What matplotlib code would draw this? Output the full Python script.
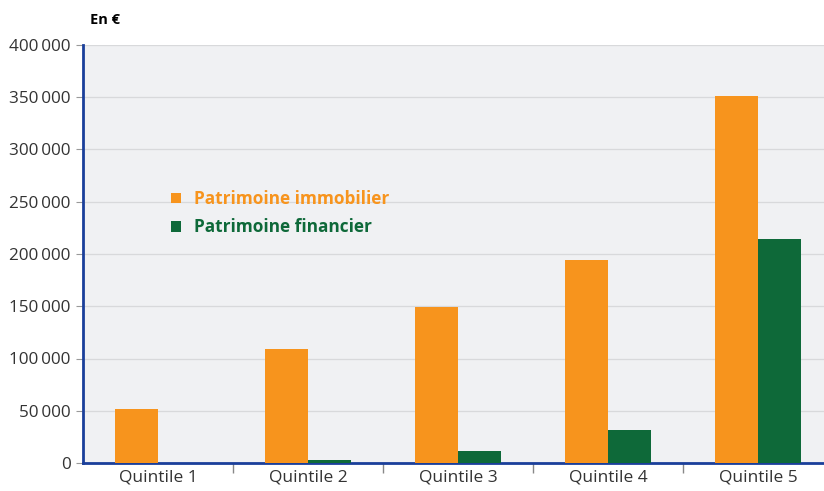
import numpy as np
import matplotlib.pyplot as plt
from matplotlib.ticker import FuncFormatter

plt.rcParams['font.family'] = ['Open Sans', 'DejaVu Sans']

quintiles = ['Quintile 1', 'Quintile 2', 'Quintile 3', 'Quintile 4', 'Quintile 5']
immobilier = [52000, 109000, 149000, 194000, 351000]
financier = [0, 3000, 11500, 31500, 214000]

orange = '#f7941d'
green = '#0e6939'
blue = '#1a3f9a'

fig = plt.figure(figsize=(8.24, 4.91), dpi=100)
ax = fig.add_axes([83/824, 28/491, 741/824, 418/491])
ax.set_facecolor('#f0f1f3')

x = np.arange(len(quintiles))
w = 0.285
ax.bar(x - w/2, immobilier, w, color=orange, label='Patrimoine immobilier', zorder=3)
ax.bar(x + w/2, financier, w, color=green, label='Patrimoine financier', zorder=3)

ax.set_xlim(-0.5, 4.44)
ax.set_ylim(0, 400000)
ax.set_yticks(np.arange(0, 400001, 50000))
ax.yaxis.set_major_formatter(FuncFormatter(lambda v, p: f'{int(v):,}'.replace(',', '\u2009')))
ax.grid(axis='y', color='#d8d9db', linewidth=0.9, zorder=0)

ax.set_xticks(x)
ax.set_xticklabels(quintiles)
ax.set_xticks(np.arange(0.5, 4.0, 1), minor=True)
ax.tick_params(axis='x', which='major', length=0, labelsize=12.5, labelcolor='#333333', pad=5)
ax.tick_params(axis='x', which='minor', length=7, color='#888888', width=1)
ax.tick_params(axis='y', length=5, color='#999999', labelsize=12.3, labelcolor='#333333', pad=4)

for s in ['top', 'right']:
    ax.spines[s].set_visible(False)
for s in ['left', 'bottom']:
    ax.spines[s].set_color(blue)
    ax.spines[s].set_linewidth(2)

leg = ax.legend(loc='upper left', bbox_to_anchor=(0.098, 0.69), frameon=False,
                handlelength=0.6, handleheight=0.6, handletextpad=0.75, labelspacing=0.6,
                prop={'weight': 'bold', 'size': 12.4})
for t, c in zip(leg.get_texts(), [orange, green]):
    t.set_color(c)

fig.text(90/824, 1 - 20/491, 'En €', fontsize=10.5, fontweight='bold', va='center')

fig.savefig('out.png', dpi=100)
